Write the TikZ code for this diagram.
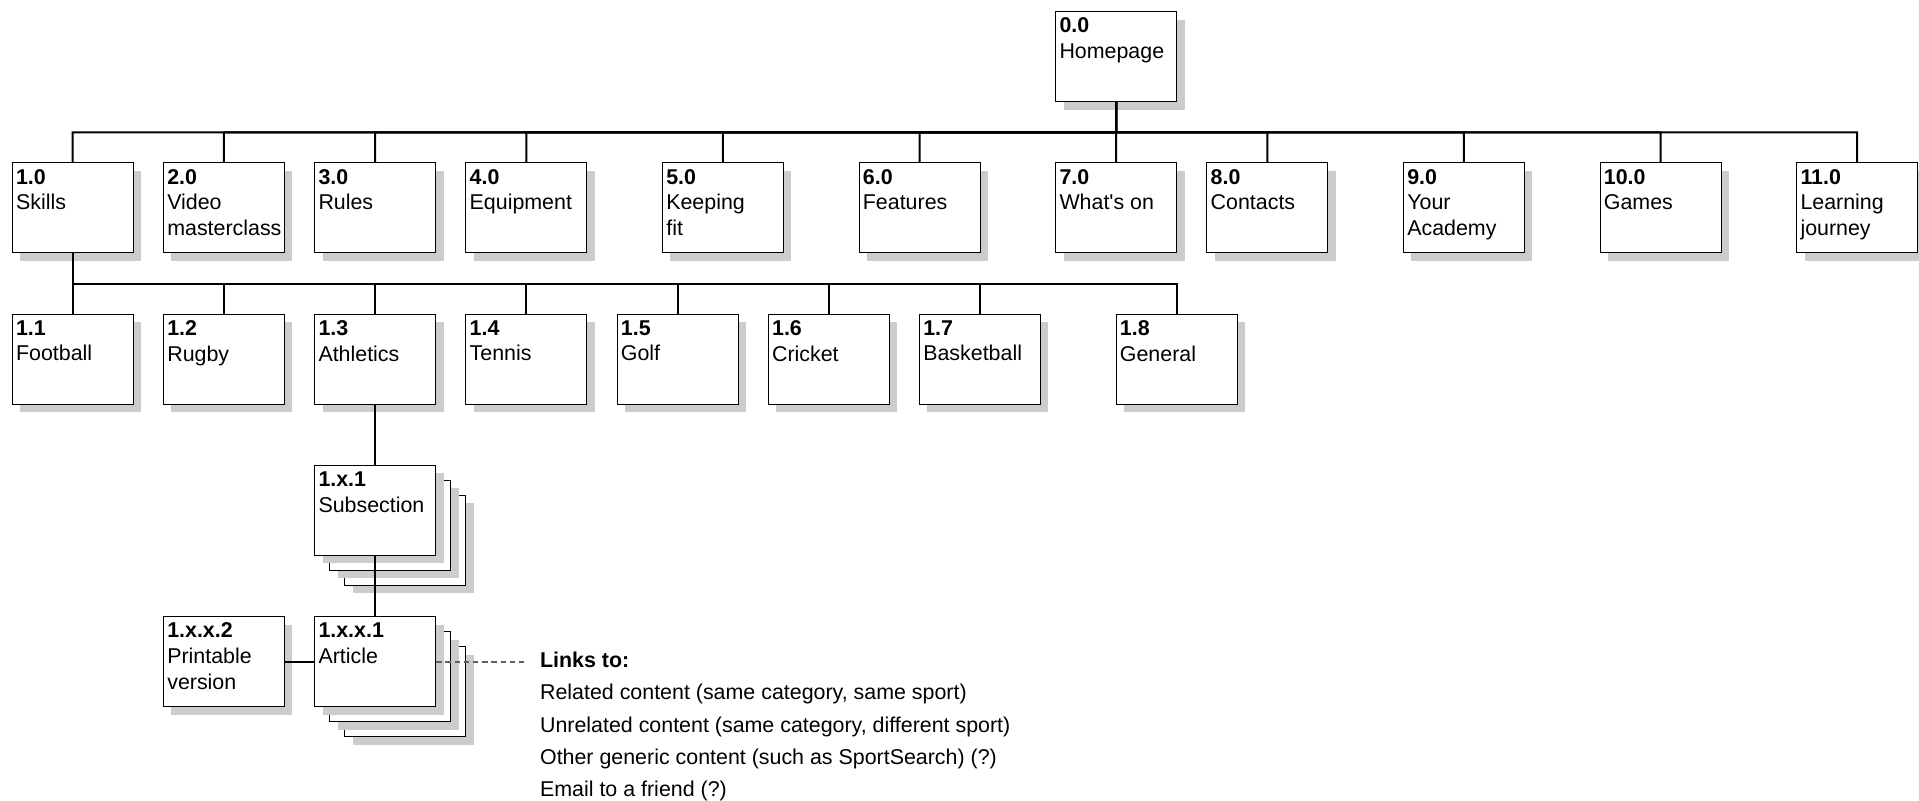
\documentclass[tikz,border=0pt]{standalone}
\usepackage{fontspec}
\setmainfont{Liberation Sans}
\usetikzlibrary{positioning, calc, shadows}

\begin{document}
\begin{tikzpicture}[
        box/.style = {rectangle, draw, line width=0.5pt, fill=white, minimum width=60.5pt, minimum height=45pt, inner sep=0pt,
            drop shadow={shadow xshift=4pt, shadow yshift=-4pt, fill=black!20, opacity=1}},
        txt/.style = {anchor=north west, align=left, inner sep=2pt, yshift=-1.1pt},
        line/.style = {line width=1pt},
        linkline/.style = {dashed, dash pattern=on 2.7pt off 1.9pt, line width=1pt, black!62},
        node distance=30.1pt and 14.6pt, % 上下和左右间距
        font = \fontsize{10.7}{12.9}\selectfont,
    ]
    \useasboundingbox (-36.35pt,104pt) rectangle (923.15pt,-296.5pt);
    % 第一层
    \node[box] (skills) at (0,0) {};
    \node[box, right=of skills] (video) {};
    \node[box, right=of video] (rules) {};
    \node[box, right=of rules] (equip) {};
    \node[box, right=37.3pt of equip] (keepfit) {};
    \node[box, right=37.3pt of keepfit] (features) {};
    \node[box, right=37.3pt of features] (whatson) {};
    \node[box, right=of whatson] (contacts) {};
    \node[box, right=37.3pt of contacts] (academy) {};
    \node[box, right=37.3pt of academy] (games) {};
    \node[box, right=37.3pt of games] (journey) {};
    \node[box, above=of whatson] (home) {};
    % 第二层
    \node[box, below=of skills] (football) {};
    \node[box, right=of football] (rugby) {};
    \node[box, right=of rugby] (athletics) {};
    \node[box, right=of athletics] (tennis) {};
    \node[box, right=of tennis] (golf) {};
    \node[box, right=of golf] (cricket) {};
    \node[box, right=of cricket] (basketball) {};
    \node[box, right=37.3pt of basketball] (general) {};
    % 叠在一起的页面, 先画后面两张
    \coordinate[below=of athletics] (subsec-top);
    \node[box, anchor=north, xshift=15pt, yshift=-15pt] (subsec3) at (subsec-top) {};
    \node[box, anchor=north, xshift=7.5pt, yshift=-7.5pt] (subsec2) at (subsec-top) {};
    \node[box, anchor=north] (subsec) at (subsec-top) {};
    \coordinate[below=of subsec] (article-top);
    \node[box, anchor=north, xshift=15pt, yshift=-15pt] (article3) at (article-top) {};
    \node[box, anchor=north, xshift=7.5pt, yshift=-7.5pt] (article2) at (article-top) {};
    \node[box, anchor=north] (article) at (article-top) {};
    \node[box, left=of article] (printable) {};

    \foreach \b/\num/\txt in {home/0.0/Homepage, skills/1.0/Skills, video/2.0/Video\\masterclass, rules/3.0/Rules,
            equip/4.0/Equipment, keepfit/5.0/Keeping\\fit, features/6.0/Features, whatson/7.0/What\textquotesingle s on,
            contacts/8.0/Contacts, academy/9.0/Your\\Academy, games/10.0/Games, journey/11.0/Learning\\journey,
            football/1.1/Football, rugby/1.2/Rugby, athletics/1.3/Athletics, tennis/1.4/Tennis, golf/1.5/Golf,
            cricket/1.6/Cricket, basketball/1.7/Basketball, general/1.8/General,
            subsec/1.x.1/Subsection, article/1.x.x.1/Article, printable/1.x.x.2/Printable\\version}{
        \node[txt] (\b-txt) at (\b.north west) {\textbf{\num}\\\txt};
    }

    \node[right=45.5pt of article, yshift=-32.5pt, align=left, inner xsep=6.3pt, inner ysep=0pt,
        font=\fontsize{10.7}{16.2}\selectfont] (links) {\textbf{Links to:}\\
        Related content (same category, same sport)\\
        Unrelated content (same category, different sport)\\
        Other generic content (such as SportSearch) (?)\\
        Email to a friend (?)};

    % 连线
    \coordinate (bus1) at ($(home.south)!.5!(whatson.north)$);
    \coordinate (bus2) at ($(skills.south)!.5!(football.north)$);
    \foreach \c in {skills, video, rules, equip, keepfit, features, whatson, contacts, academy, games, journey}
        \draw[line] (home) -- (bus1) -| (\c);
    \foreach \c in {football, rugby, athletics, tennis, golf, cricket, basketball, general}
        \draw[line] (skills) -- (bus2) -| (\c);
    \draw[line] (athletics) -- (subsec);
    \draw[line] (subsec) -- (article);
    \draw[line] (printable) -- (article);
    \draw[linkline] (article.east) -- (article.east -| links.west);
\end{tikzpicture}
\end{document}
